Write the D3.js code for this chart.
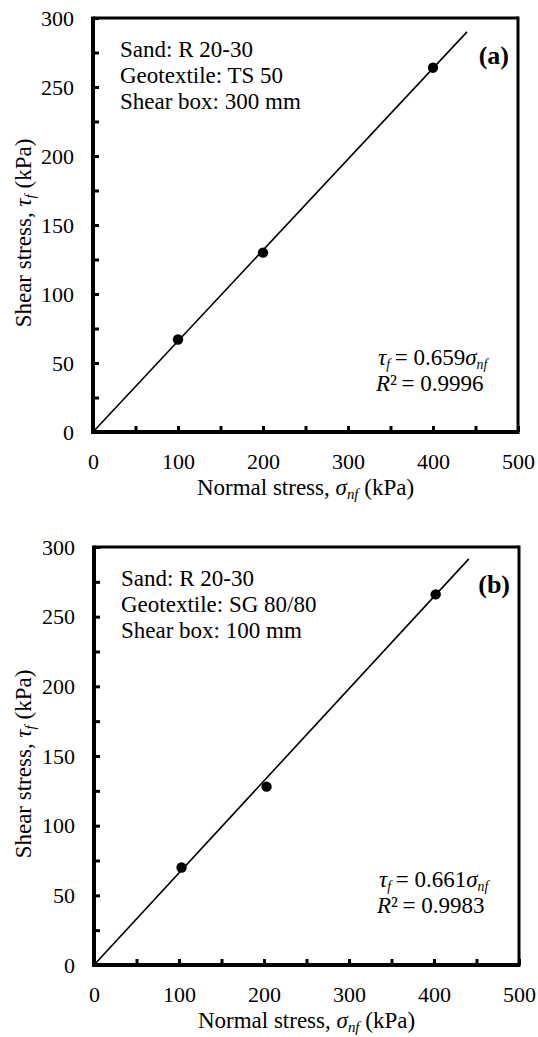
<!DOCTYPE html>
<html>
<head>
<meta charset="utf-8">
<script src="https://cdn.jsdelivr.net/npm/d3@7"></script>
<style>
  html, body { margin: 0; padding: 0; background: #fff; }
  svg { display: block; }
  text { font-family: "Liberation Serif", "Times New Roman", serif; fill: #000; }
</style>
</head>
<body>
<script>
// ---- data ----
const panelLabels = ["(a)", "(b)"];
const sandLines = ["Sand: R 20-30", "Sand: R 20-30"];
const geotextileLines = ["Geotextile: TS 50", "Geotextile: SG 80/80"];
const shearBoxLines = ["Shear box: 300 mm", "Shear box: 100 mm"];
const normalStressA = [100, 200, 400];
const shearStressA = [67, 130, 264];
const normalStressB = [103, 203, 402];
const shearStressB = [70, 128, 266];
const fitSlopes = ["0.659", "0.661"];
const fitR2 = ["0.9996", "0.9983"];
const fitXMax = [440, 441];
const xTickValues = [0, 50, 100, 150, 200, 250, 300, 350, 400, 450, 500];
const yTickValues = [0, 25, 50, 75, 100, 125, 150, 175, 200, 225, 250, 275, 300];
const xDomain = [0, 500];
const yDomain = [0, 300];

const W = 538, H = 1037;
const FS = 23;      // labels / annotations
const TFS = 22;     // tick labels

const svg = d3.select("body").append("svg").attr("width", W).attr("height", H);
svg.append("rect").attr("width", W).attr("height", H).attr("fill", "#fff");

const panels = [
  { left: 93, right: 518, top: 18, bottom: 432, xs: normalStressA, ys: shearStressA, eqDy: [-67, -41] },
  { left: 94, right: 519, top: 547, bottom: 965, xs: normalStressB, ys: shearStressB, eqDy: [-78, -52] }
];

panels.forEach((p, i) => {
  const x = d3.scaleLinear().domain(xDomain).range([p.left, p.right]);
  const y = d3.scaleLinear().domain(yDomain).range([p.bottom, p.top]);
  const g = svg.append("g");

  // frame top & right
  g.append("line").attr("x1", p.left).attr("x2", p.right).attr("y1", p.top).attr("y2", p.top)
    .attr("stroke", "#000").attr("stroke-width", 3);
  g.append("line").attr("x1", p.right).attr("x2", p.right).attr("y1", p.top - 1.5).attr("y2", p.bottom)
    .attr("stroke", "#000").attr("stroke-width", 3);

  // axes
  const xAxis = d3.axisBottom(x).tickValues(xTickValues)
    .tickFormat(d => d % 100 === 0 ? d : "")
    .tickSizeInner(-6).tickSizeOuter(0).tickPadding(21);
  const yAxis = d3.axisLeft(y).tickValues(yTickValues)
    .tickFormat(d => d % 50 === 0 ? d : "")
    .tickSizeInner(-6).tickSizeOuter(0).tickPadding(19);

  const gx = g.append("g").attr("transform", `translate(0,${p.bottom})`).call(xAxis);
  const gy = g.append("g").attr("transform", `translate(${p.left},0)`).call(yAxis);
  [gx, gy].forEach(ax => {
    ax.select(".domain").attr("stroke", "#000").attr("stroke-width", 4);
    ax.selectAll(".tick line").attr("stroke", "#000").attr("stroke-width", 3);
    ax.selectAll(".tick text").attr("font-size", TFS).attr("font-family", "Liberation Serif");
  });
  gx.select(".domain").attr("d", `M${p.left - 2},0H${p.right + 1.5}`);
  gy.select(".domain").attr("d", `M0,${p.top - 1.5}V${p.bottom + 2}`);

  // fit line
  const slope = +fitSlopes[i];
  g.append("line")
    .attr("x1", x(0)).attr("y1", y(0))
    .attr("x2", x(fitXMax[i])).attr("y2", y(slope * fitXMax[i]))
    .attr("stroke", "#000").attr("stroke-width", 1.6);

  // points
  g.selectAll("circle.pt").data(d3.zip(p.xs, p.ys)).join("circle")
    .attr("class", "pt")
    .attr("cx", d => x(d[0])).attr("cy", d => y(d[1])).attr("r", 5.2).attr("fill", "#000");

  // annotation block
  const ann = [sandLines[i], geotextileLines[i], shearBoxLines[i]];
  ann.forEach((t, k) => {
    g.append("text").attr("x", p.left + 27).attr("y", p.top + 39 + k * 26)
      .attr("font-size", FS).text(t);
  });

  // panel label
  g.append("text").attr("x", p.right - 9).attr("y", p.top + 46)
    .attr("text-anchor", "end").attr("font-size", 26).attr("font-weight", "bold").text(panelLabels[i]);

  // equation
  const eqX = p.right - 142;
  const eq1 = g.append("text").attr("x", eqX + 2).attr("y", p.bottom + p.eqDy[0])
    .attr("font-size", FS);
  eq1.append("tspan").attr("font-style", "italic").text("τ");
  eq1.append("tspan").attr("font-style", "italic").attr("font-size", FS * 0.6).attr("dy", 4).text("f");
  eq1.append("tspan").attr("dy", -4).text("\u2009= " + fitSlopes[i]);
  eq1.append("tspan").attr("font-style", "italic").text("σ");
  eq1.append("tspan").attr("font-style", "italic").attr("font-size", FS * 0.6).attr("dy", 4).text("nf");

  const eq2 = g.append("text").attr("x", eqX).attr("y", p.bottom + p.eqDy[1])
    .attr("font-size", FS);
  eq2.append("tspan").attr("font-style", "italic").text("R");
  eq2.append("tspan").text("²\u2009= " + fitR2[i]);

  // x axis title
  const xt = g.append("text").attr("x", (p.left + p.right) / 2).attr("y", p.bottom + 63)
    .attr("text-anchor", "middle").attr("font-size", FS);
  xt.append("tspan").text("Normal stress, ");
  xt.append("tspan").attr("font-style", "italic").text("σ");
  xt.append("tspan").attr("font-style", "italic").attr("font-size", FS * 0.65).attr("dy", 4).text("nf");
  xt.append("tspan").attr("dy", -4).text(" (kPa)");

  // y axis title
  const yt = g.append("text")
    .attr("transform", `translate(31,${(p.top + p.bottom) / 2 + 8}) rotate(-90)`)
    .attr("text-anchor", "middle").attr("font-size", FS);
  yt.append("tspan").text("Shear stress, ");
  yt.append("tspan").attr("font-style", "italic").text("τ");
  yt.append("tspan").attr("font-style", "italic").attr("font-size", FS * 0.65).attr("dy", 4).text("f");
  yt.append("tspan").attr("dy", -4).text(" (kPa)");
});
</script>
</body>
</html>
